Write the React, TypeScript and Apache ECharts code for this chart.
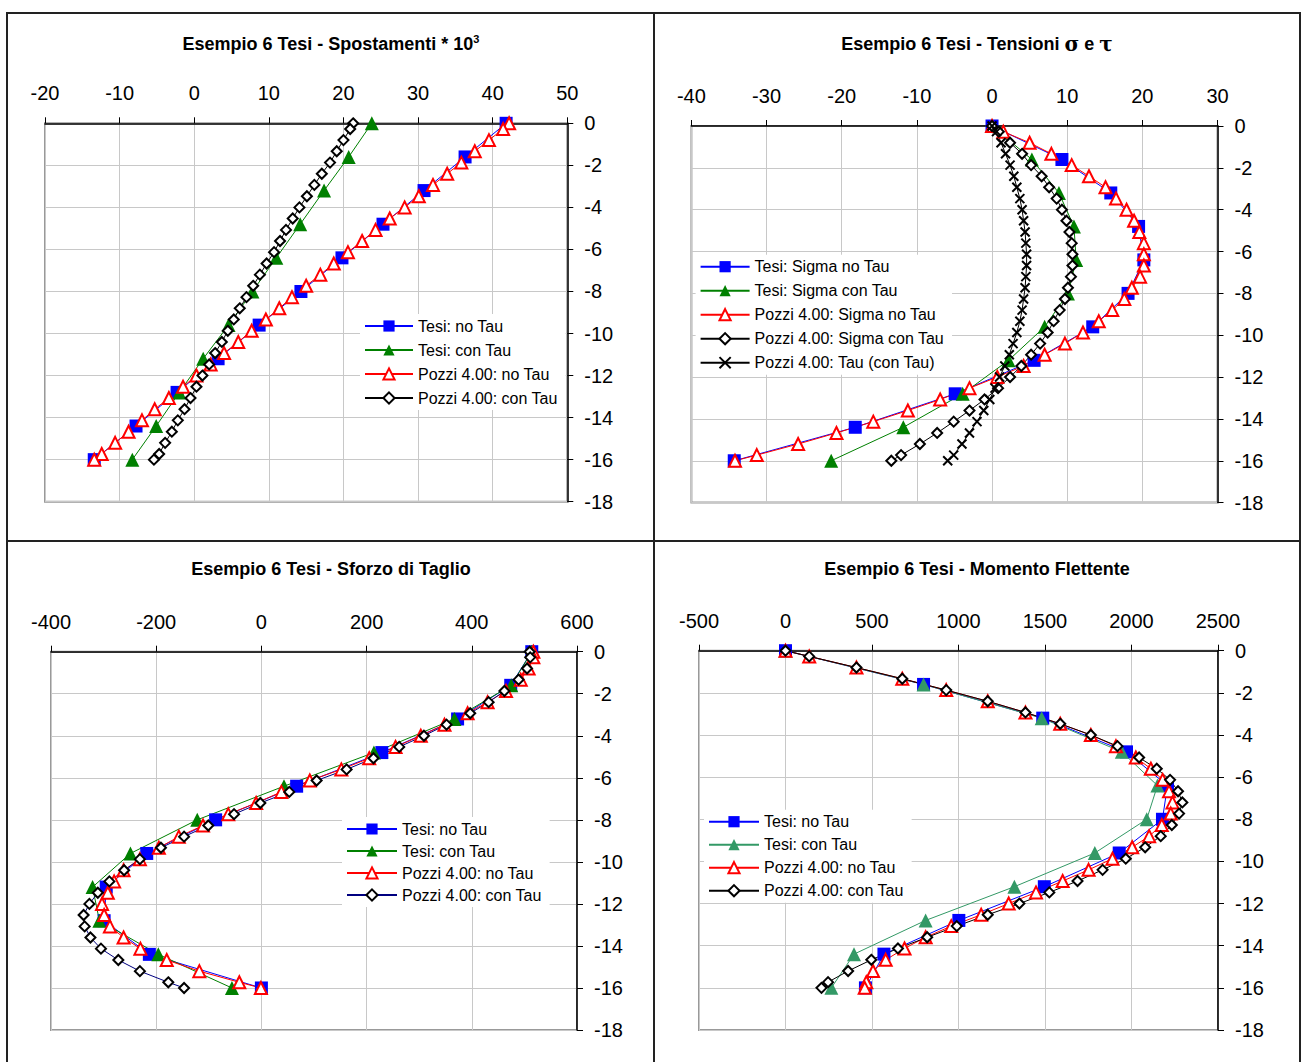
import React, { useEffect, useRef } from "react";
import * as echarts from "echarts";

const FONT = '"Liberation Sans", Arial, Helvetica, sans-serif';

// depth levels
const DEPTH_TESI = [0, -1.6, -3.2, -4.8, -6.4, -8, -9.6, -11.2, -12.8, -14.4, -16];
const DEPTH_POZZI = [0, -0.27, -0.8, -1.33, -1.87, -2.4, -2.93, -3.47, -4, -4.53, -5.07, -5.6, -6.13, -6.67, -7.2, -7.73, -8.27, -8.8, -9.33, -9.87, -10.4, -10.93, -11.47, -12, -12.53, -13.07, -13.6, -14.13, -14.67, -15.2, -15.73, -16];

// Panel 1 - Spostamenti * 10^3
const SP_TESI_NO = [41.8, 36.3, 30.8, 25.3, 19.8, 14.3, 8.7, 3.2, -2.3, -7.8, -13.4];
const SP_TESI_CON = [23.8, 20.7, 17.4, 14.2, 11.0, 7.8, 4.6, 1.2, -2.0, -5.1, -8.3];
const SP_POZZI_NO = [42.2, 41.4, 39.5, 37.6, 35.8, 33.9, 32.0, 30.1, 28.2, 26.2, 24.3, 22.5, 20.6, 18.7, 16.9, 15.0, 13.1, 11.4, 9.6, 7.7, 5.9, 4.0, 2.2, 0.3, -1.5, -3.4, -5.3, -7.0, -8.8, -10.6, -12.4, -13.4];
const SP_POZZI_CON = [21.3, 20.9, 20.0, 19.1, 18.2, 17.1, 16.1, 15.1, 14.1, 13.2, 12.3, 11.5, 10.7, 9.7, 8.8, 7.9, 7.0, 6.1, 5.3, 4.5, 3.7, 2.8, 2.0, 1.1, 0.3, -0.5, -1.3, -2.2, -3.0, -3.9, -4.7, -5.4];

// Panel 2 - Tensioni sigma e tau
const TE_TESI_NO = [0, 9.3, 15.8, 19.5, 20.2, 18.1, 13.4, 5.6, -4.9, -18.2, -34.3];
const TE_TESI_CON = [0, 5.3, 8.9, 10.9, 11.2, 10.1, 7.0, 2.2, -3.9, -11.8, -21.4];
const TE_POZZI_NO = [0, 1.5, 5.0, 7.9, 10.6, 12.9, 15.1, 16.5, 17.9, 18.9, 19.6, 20.2, 20.2, 20.2, 19.7, 18.6, 17.6, 16.0, 14.2, 12.1, 9.7, 7.0, 4.2, 0.7, -3.0, -6.9, -11.2, -15.8, -20.7, -25.8, -31.3, -34.2];
const TE_POZZI_CON = [0, 0.9, 2.4, 4.0, 5.2, 6.6, 7.6, 8.6, 9.3, 9.9, 10.3, 10.6, 10.7, 10.7, 10.5, 10.1, 9.7, 9.0, 8.2, 7.4, 6.4, 5.2, 3.9, 2.4, 0.8, -1.0, -3.0, -5.1, -7.3, -9.6, -12.1, -13.4];
const TE_POZZI_TAU = [0, 0.6, 1.2, 1.8, 2.4, 2.9, 3.3, 3.7, 4.0, 4.2, 4.4, 4.5, 4.6, 4.6, 4.5, 4.4, 4.2, 4.0, 3.7, 3.3, 2.8, 2.3, 1.7, 1.0, 0.4, -0.3, -1.1, -2.0, -3.0, -4.0, -5.1, -5.9];

// Panel 3 - Sforzo di Taglio
const TA_TESI_NO = [514, 474, 373, 229, 67, -87, -218, -295, -299, -213, 0];
const TA_TESI_CON = [514, 475, 367, 214, 43, -122, -249, -321, -308, -196, -56];
const TA_POZZI_NO = [517, 517, 508, 493, 465, 430, 392, 348, 303, 255, 205, 152, 92, 38, -10, -63, -111, -157, -195, -231, -262, -280, -292, -303, -299, -288, -262, -230, -180, -118, -42, -1];
const TA_POZZI_CON = [510, 511, 505, 489, 462, 432, 397, 352, 309, 262, 213, 162, 105, 53, -2, -52, -101, -147, -191, -231, -261, -289, -311, -327, -338, -336, -325, -305, -272, -231, -177, -147];

// Panel 4 - Momento Flettente
const MO_TESI_NO = [0, 798, 1487, 1971, 2208, 2179, 1929, 1496, 1002, 569, 462];
const MO_TESI_CON = [0, 798, 1481, 1944, 2150, 2088, 1788, 1323, 810, 396, 265];
const MO_POZZI_NO = [0, 137, 410, 675, 929, 1169, 1387, 1588, 1765, 1910, 2025, 2112, 2180, 2217, 2237, 2227, 2175, 2102, 2004, 1890, 1752, 1602, 1448, 1290, 1131, 958, 810, 688, 579, 506, 467, 458];
const MO_POZZI_CON = [0, 137, 410, 675, 929, 1169, 1387, 1588, 1765, 1919, 2044, 2146, 2223, 2269, 2294, 2275, 2233, 2169, 2079, 1967, 1833, 1688, 1525, 1352, 1169, 990, 819, 650, 496, 362, 246, 208];

const CROSS = "path://M0,0L10,10M10,0L0,10";

const toPairs = (xs: number[], ys: number[]) => xs.map((x, i) => [x, ys[i]]);

function mk(kind: string, name: string, xs: number[], ys: number[], color?: string) {
  const base: any = {
    type: "line",
    name,
    data: toPairs(xs, ys),
    clip: false,
    emphasis: { disabled: true },
    showAllSymbol: true,
  };
  if (kind === "sq") {
    const c = color || "#0000ff";
    return { ...base, symbol: "rect", symbolSize: 13, itemStyle: { color: c }, lineStyle: { color: c, width: 1 } };
  }
  if (kind === "tri") {
    const c = color || "#008000";
    return { ...base, symbol: "triangle", symbolSize: 14, itemStyle: { color: c }, lineStyle: { color: c, width: 1 } };
  }
  if (kind === "trio") {
    const c = color || "#ff0000";
    return { ...base, symbol: "triangle", symbolSize: 12, itemStyle: { color: "#ffffff", borderColor: c, borderWidth: 2 }, lineStyle: { color: c, width: 1 } };
  }
  if (kind === "dia") {
    const c = color || "#000000";
    return { ...base, symbol: "diamond", symbolSize: 10, itemStyle: { color: "#ffffff", borderColor: "#000000", borderWidth: 2 }, lineStyle: { color: c, width: 1 } };
  }
  return { ...base, symbol: CROSS, symbolSize: 9, itemStyle: { color: "rgba(0,0,0,0)", borderColor: "#000000", borderWidth: 2 }, lineStyle: { color: "#000000", width: 1 } };
}

function buildOption(p: any) {
  return {
    animation: false,
    title: {
      text: p.title,
      left: "center",
      top: p.titleTop,
      textStyle: {
        fontFamily: FONT,
        fontSize: 18,
        fontWeight: "bold",
        color: "#000",
        lineHeight: 22,
        rich: {
          sup: { fontFamily: FONT, fontSize: 11, fontWeight: "bold", color: "#000", verticalAlign: "top", lineHeight: 12, padding: [0, 0, 9, 0] },
          g: { fontFamily: '"DejaVu Serif", serif', fontSize: 20, fontWeight: "bold", color: "#000", lineHeight: 22 },
        },
      },
    },
    legend: {
      orient: "vertical",
      left: p.legend.left,
      top: p.legend.top,
      itemWidth: p.legend.itemWidth,
      itemHeight: 14,
      itemGap: p.legend.itemGap,
      padding: [3, 8, 3, 4],
      backgroundColor: "#ffffff",
      selectedMode: false,
      textStyle: { fontFamily: FONT, fontSize: 16, color: "#000", lineHeight: 18 },
      data: p.series.map((s: any) => s.name),
    },
    grid: {
      left: p.grid[0],
      top: p.grid[1],
      width: p.grid[2],
      height: p.grid[3],
      show: true,
      borderColor: "#999999",
      borderWidth: 2,
      backgroundColor: "#ffffff",
    },
    xAxis: {
      type: "value",
      position: "top",
      min: p.x[0],
      max: p.x[1],
      interval: p.x[2],
      axisLine: { show: true, onZero: false, lineStyle: { color: "#000", width: 1.5 } },
      axisTick: { show: true, length: 6, lineStyle: { color: "#000" } },
      axisLabel: { margin: 20, fontSize: 20, fontFamily: FONT, color: "#000", formatter: (v: number) => String(v) },
      splitLine: { show: true, lineStyle: { color: "#c8c8c8", width: 1 } },
    },
    yAxis: {
      type: "value",
      position: "right",
      min: -18,
      max: 0,
      interval: 2,
      axisLine: { show: true, onZero: false, lineStyle: { color: "#000", width: 1.5 } },
      axisTick: { show: true, length: 6, lineStyle: { color: "#000" } },
      axisLabel: { margin: 17, fontSize: 20, fontFamily: FONT, color: "#000", formatter: (v: number) => String(v) },
      splitLine: { show: true, lineStyle: { color: "#c8c8c8", width: 1 } },
    },
    series: p.series,
  };
}

const PANELS = [
  {
    box: [8, 13, 646, 528],
    title: "Esempio 6 Tesi - Spostamenti * 10{sup|3}",
    titleTop: 15,
    grid: [37, 110.3, 522.3, 378.4],
    x: [-20, 50, 10],
    legend: { left: 352, top: 301, itemWidth: 48, itemGap: 6 },
    series: [
      mk("sq", "Tesi: no Tau", SP_TESI_NO, DEPTH_TESI),
      mk("tri", "Tesi: con Tau", SP_TESI_CON, DEPTH_TESI),
      mk("trio", "Pozzi 4.00: no Tau", SP_POZZI_NO, DEPTH_POZZI),
      mk("dia", "Pozzi 4.00: con Tau", SP_POZZI_CON, DEPTH_POZZI),
    ],
  },
  {
    box: [654, 13, 646, 528],
    title: "Esempio 6 Tesi - Tensioni {g|σ} e {g|τ}",
    titleTop: 15,
    grid: [37.4, 113, 526.1, 376.6],
    x: [-40, 30, 10],
    legend: { left: 41.6, top: 241.7, itemWidth: 49, itemGap: 6 },
    series: [
      mk("sq", "Tesi: Sigma no Tau", TE_TESI_NO, DEPTH_TESI),
      mk("tri", "Tesi: Sigma con Tau", TE_TESI_CON, DEPTH_TESI),
      mk("trio", "Pozzi 4.00: Sigma no Tau", TE_POZZI_NO, DEPTH_POZZI),
      mk("dia", "Pozzi 4.00: Sigma con Tau", TE_POZZI_CON, DEPTH_POZZI),
      mk("x", "Pozzi 4.00: Tau (con Tau)", TE_POZZI_TAU, DEPTH_POZZI),
    ],
  },
  {
    box: [8, 541, 646, 521],
    title: "Esempio 6 Tesi - Sforzo di Taglio",
    titleTop: 12,
    grid: [43, 110.7, 526, 378.3],
    x: [-400, 600, 200],
    legend: { left: 334, top: 276, itemWidth: 50, itemGap: 4 },
    series: [
      mk("sq", "Tesi: no Tau", TA_TESI_NO, DEPTH_TESI),
      mk("tri", "Tesi: con Tau", TA_TESI_CON, DEPTH_TESI),
      mk("trio", "Pozzi 4.00: no Tau", TA_POZZI_NO, DEPTH_POZZI),
      mk("dia", "Pozzi 4.00: con Tau", TA_POZZI_CON, DEPTH_POZZI, "#000080"),
    ],
  },
  {
    box: [654, 541, 646, 521],
    title: "Esempio 6 Tesi - Momento Flettente",
    titleTop: 12,
    grid: [45, 109.7, 519, 379.3],
    x: [-500, 2500, 500],
    legend: { left: 50, top: 268.7, itemWidth: 50, itemGap: 5 },
    series: [
      mk("sq", "Tesi: no Tau", MO_TESI_NO, DEPTH_TESI),
      mk("tri", "Tesi: con Tau", MO_TESI_CON, DEPTH_TESI, "#339966"),
      mk("trio", "Pozzi 4.00: no Tau", MO_POZZI_NO, DEPTH_POZZI),
      mk("dia", "Pozzi 4.00: con Tau", MO_POZZI_CON, DEPTH_POZZI),
    ],
  },
];

function Panel({ p }: { p: any }) {
  const ref = useRef<HTMLDivElement>(null);
  useEffect(() => {
    if (!ref.current) return;
    const chart = echarts.init(ref.current, undefined, { renderer: "svg" });
    chart.setOption(buildOption(p));
    return () => chart.dispose();
  }, [p]);
  return (
    <div
      ref={ref}
      style={{ position: "absolute", left: p.box[0], top: p.box[1], width: p.box[2], height: p.box[3] }}
    />
  );
}

const LINE_COLOR = "#222";

export default function App() {
  const lines = [
    { left: 6, top: 12, width: 2, height: 1050 },
    { left: 653, top: 12, width: 2, height: 1050 },
    { left: 1299, top: 12, width: 2, height: 1050 },
    { left: 6, top: 12, width: 1295, height: 2 },
    { left: 6, top: 540, width: 1295, height: 2 },
  ];
  return (
    <div style={{ position: "absolute", left: 0, top: 0, width: 1302, height: 1062, background: "#fff", overflow: "hidden" }}>
      {PANELS.map((p, i) => (
        <Panel key={i} p={p} />
      ))}
      {lines.map((l, i) => (
        <div key={"l" + i} style={{ position: "absolute", background: LINE_COLOR, ...l }} />
      ))}
    </div>
  );
}
